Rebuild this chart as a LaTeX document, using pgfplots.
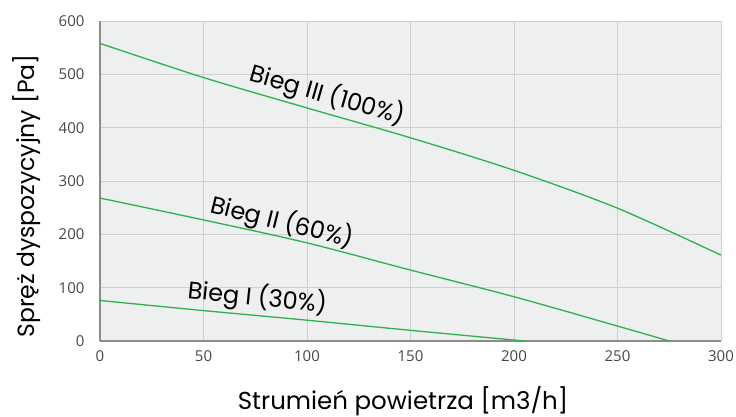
\documentclass[border=0pt]{standalone}
\usepackage{fontspec}
\setmainfont{Poppins}
\newfontfamily\tickfont{Open Sans}
\usepackage{pgfplots}
\pgfplotsset{compat=1.18}
\definecolor{curve}{RGB}{45,178,75}
\definecolor{plotbg}{RGB}{238,239,239}
\definecolor{gridc}{RGB}{208,208,208}
\definecolor{axc}{RGB}{140,140,140}
\definecolor{tickc}{RGB}{70,70,70}
\begin{document}
\begin{tikzpicture}
\useasboundingbox (-100pt,-76pt) rectangle (636pt,341pt);
\begin{axis}[
  at={(0,0)}, anchor=south west,
  scale only axis, width=621pt, height=320pt,
  xmin=0, xmax=300, ymin=0, ymax=600,
  xtick distance=50, ytick distance=100,
  axis background/.style={fill=plotbg},
  axis x line*=bottom, axis y line*=left,
  axis line style={axc, line width=1.3pt, -},
  major tick length=0pt,
  grid=major, major grid style={gridc, line width=0.8pt},
  ticklabel style={font=\tickfont\fontsize{15}{18}\selectfont, text=tickc},
  /pgf/number format/assume math mode=true,
  xticklabel style={anchor=north, yshift=-6pt},
  yticklabel style={anchor=east, xshift=-12pt},
  clip=false,
]
% Bieg III (100%)
\addplot[curve, line width=1.3pt, smooth] coordinates {
  (0,558) (50,494) (100,437) (150,381) (200,320) (250,249) (300,161)
};
% Bieg II (60%)
\addplot[curve, line width=1.3pt, smooth] coordinates {
  (0,268) (50,227) (100,184) (150,133) (200,83) (250,28) (275,0)
};
% Bieg I (30%)
\addplot[curve, line width=1.3pt, smooth] coordinates {
  (0,76) (50,57) (100,39) (150,20) (205,0)
};
\node[rotate=-16, font=\fontsize{24}{28}\selectfont] at (axis cs:110,461) {Bieg III (100\%)};
\node[rotate=-14, font=\fontsize{24}{28}\selectfont] at (axis cs:88,223) {Bieg II (60\%)};
\node[rotate=-6, font=\fontsize{24}{28}\selectfont] at (axis cs:76,81) {Bieg I (30\%)};
\node[anchor=base, font=\fontsize{24.5}{28}\selectfont] at ([yshift=-68pt]axis cs:146.4,0) {Strumień powietrza [m3/h]};
\node[anchor=base, rotate=90, font=\fontsize{23.5}{28}\selectfont] at ([xshift=-65pt]axis cs:0,272) {Spręż dyspozycyjny [Pa]};
\end{axis}
\end{tikzpicture}
\end{document}
